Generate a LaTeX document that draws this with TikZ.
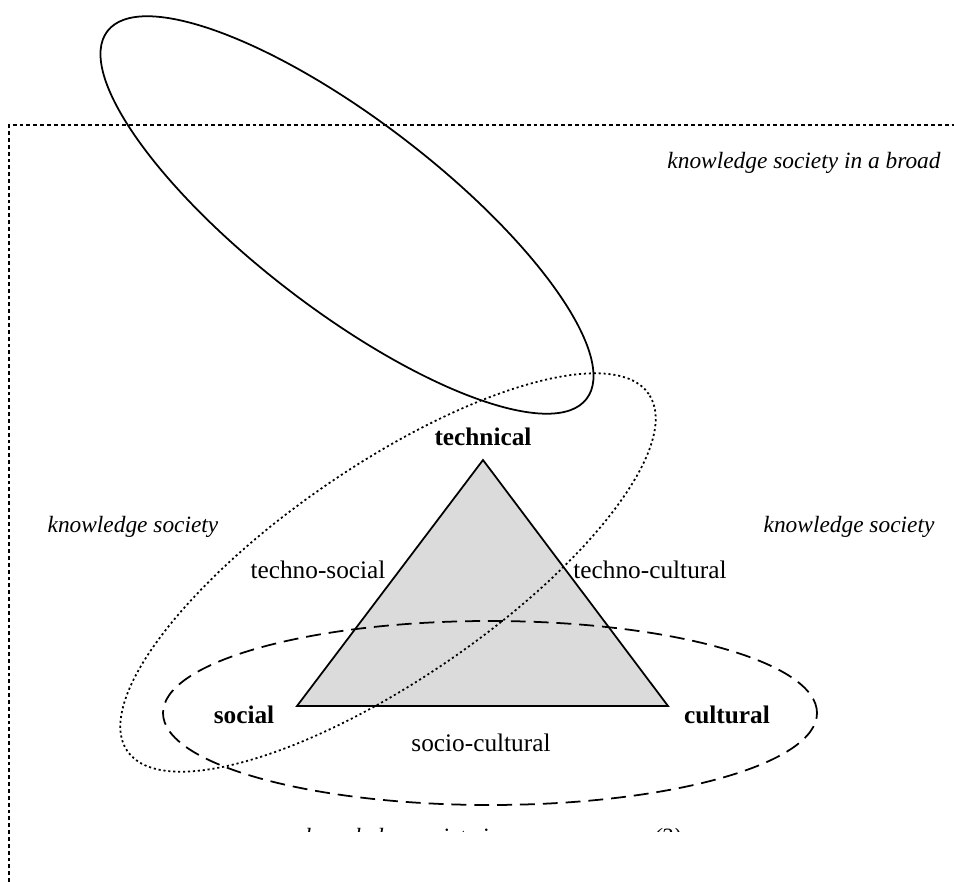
\documentclass[tikz,border=0pt]{standalone}
\usepackage{fontspec}
\setmainfont{Liberation Serif}
\begin{document}
\begin{tikzpicture}[
  lbl/.style={inner sep=0pt, font=\fontsize{14.4}{16}\selectfont},
  corner/.style={lbl, font=\fontsize{14.4}{16}\selectfont\bfseries},
  area/.style={lbl, font=\fontsize{13.3}{15}\selectfont\itshape},
  frameline/.style={line width=1.3pt, dash pattern=on 2.2pt off 1.7pt},
  dotline/.style={line width=1pt, dash pattern=on 1.2pt off 1.6pt},
  dashline/.style={line width=1pt, dash pattern=on 8.5pt off 4.5pt},
  solidline/.style={line width=1pt}
]
\useasboundingbox (0,0) rectangle (19.08,17.64);

% outer frame of the broad knowledge society
\coordinate (fb) at (0.18,0);
\coordinate (fc) at (0.18,15.14);
\coordinate (fr) at (19.2,15.14);
\draw[frameline] (fb) -- (fc) -- (fr);

% the triangle of dimensions
\coordinate (T) at (9.66,8.44);
\coordinate (S) at (5.94,3.52);
\coordinate (C) at (13.36,3.52);
\filldraw[fill=black!14, line width=1pt, line join=miter] (S) -- (T) -- (C) -- cycle;

% overlapping areas
\draw[solidline] (6.94,13.34) ellipse[x radius=6.04, y radius=1.9, rotate=-37.5];
\draw[dotline] (7.76,6.19) ellipse[x radius=6.32, y radius=2.14, rotate=34.4];
\draw[dashline] (9.8,3.38) ellipse[x radius=6.54, y radius=1.84];

% corner labels
\node[corner] (technical) at (9.66,8.9) {technical};
\node[corner] (social) at (4.88,3.34) {social};
\node[corner] (cultural) at (14.54,3.34) {cultural};

% side labels
\node[lbl] (technosocial) at (6.36,6.24) {techno-social};
\node[lbl] (technocultural) at (13.0,6.24) {techno-cultural};
\node[lbl] (sociocultural) at (9.62,2.78) {socio-cultural};

% area labels
\node[area] (broad) at (16.08,14.38) {knowledge society in a broad};
\node[area] (ksleft) at (2.66,7.1) {knowledge society};
\node[area] (ksright) at (16.98,7.1) {knowledge society};

\begin{scope}
  \clip (0,1.0) rectangle (19.08,17.64);
  \node[area, anchor=base west] (narrow) at (6.1,0.75) {knowledge society in a narrow sense (3)};
\end{scope}
\end{tikzpicture}
\end{document}
